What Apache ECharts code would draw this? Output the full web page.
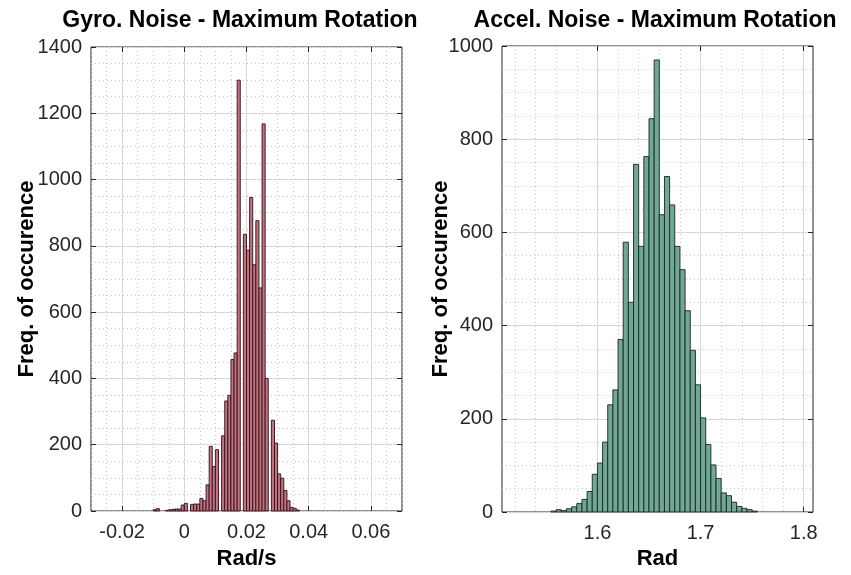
<!DOCTYPE html>
<html><head><meta charset="utf-8">
<script src="https://cdn.jsdelivr.net/npm/echarts@6/dist/echarts.min.js"></script>
<style>html,body{margin:0;padding:0;background:#fff}#c{width:851px;height:575px}</style>
</head><body><div id="c"></div><script>
// ---- Gyro histogram (bin edges, counts) ----
const gyroEdges = [-0.010,-0.009,-0.008,-0.007,-0.006,-0.005,-0.004,-0.003,-0.002,-0.001,
  0.000,0.001,0.002,0.003,0.004,0.005,0.006,0.007,0.008,0.009,0.010,0.011,0.012,0.013,0.014,
  0.015,0.016,0.017,0.018,0.019,0.020,0.021,0.022,0.023,0.024,0.025,0.026,0.027,0.028,0.029,
  0.030,0.031,0.032,0.033,0.034,0.035,0.036,0.037];
const gyroCounts = [4,7,0,0,2,4,5,6,6,18,
  23,0,20,21,21,38,31,79,195,134,185,0,227,332,349,
  457,477,1300,0,835,787,946,743,876,673,1168,400,0,274,205,
  112,99,62,31,11,8,3];
// ---- Accel histogram ----
const accelEdges = [1.555,1.560,1.565,1.570,1.575,1.580,1.585,1.590,1.595,1.600,
  1.605,1.610,1.615,1.620,1.625,1.630,1.635,1.640,1.645,1.650,1.655,1.660,1.665,1.670,
  1.675,1.680,1.685,1.690,1.695,1.700,1.705,1.710,1.715,1.720,1.725,1.730,1.735,1.740,
  1.745,1.750,1.755];
const accelCounts = [2,5,3,7,11,18,27,44,81,105,
  150,230,262,370,579,450,746,570,763,844,970,638,720,659,
  570,520,432,347,273,202,145,101,72,41,35,21,12,8,
  5,2];
// ---- Tick values ----
const gyroXTicks = [-0.02,0,0.02,0.04,0.06];
const gyroYTicks = [0,200,400,600,800,1000,1200,1400];
const accelXTicks = [1.6,1.7,1.8];
const accelXMinor = [1.52,1.54,1.56,1.58,1.60,1.62,1.64,1.66,1.68,1.70,1.72,1.74,1.76,1.78,1.80];
const accelYTicks = [0,200,400,600,800,1000];

const TXT = '#262626';
const FONT = 'Liberation Sans, Arial, sans-serif';
const fmt = v => String(+(+v).toFixed(4));

function toData(edges, counts){
  const out = [];
  for (let i = 0; i < counts.length; i++) {
    if (counts[i] > 0) out.push([edges[i], edges[i+1], counts[i]]);
  }
  return out;
}
function render(fill, stroke){
  return function(params, api){
    const p0 = api.coord([api.value(0), 0]);
    const p1 = api.coord([api.value(1), api.value(2)]);
    return {type:'rect', shape:{x:p0[0], y:p1[1], width:p1[0]-p0[0], height:p0[1]-p1[1]},
      style:{fill:fill, stroke:stroke, lineWidth:0.9}};
  };
}
const NOLINE = {show:false, onZero:false};
function xAxes(g, min, max, ticks, minor, minorInterval, name, gap){
  const base = {gridIndex:g, type:'value', min:min, max:max, axisLine:NOLINE};
  return [
    Object.assign({}, base, {position:'bottom',
      axisTick:{show:true, inside:true, length:5, customValues:ticks, lineStyle:{color:TXT}},
      axisLabel:{customValues:ticks, formatter:fmt, fontSize:20, color:TXT, margin:11, fontFamily:FONT},
      splitLine:{show:true, lineStyle:{color:'#dedede', width:1}},
      name:name, nameLocation:'middle', nameGap:gap,
      nameTextStyle:{fontWeight:'bold', fontSize:22, color:'#000', fontFamily:FONT}}),
    Object.assign({}, base, {position:'bottom', interval:minorInterval,
      axisTick:{show:false, customValues:minor}, axisLabel:{show:false},
      splitLine:{show:true, lineStyle:{color:'#c4c4c4', width:1, type:[1,3]}}}),
    Object.assign({}, base, {position:'top',
      axisTick:{show:true, inside:true, length:5, customValues:ticks, lineStyle:{color:TXT}},
      axisLabel:{show:false}, splitLine:{show:false}})
  ];
}
function yAxes(g, max, ticks, name, gap){
  const base = {gridIndex:g, type:'value', min:0, max:max, axisLine:NOLINE};
  return [
    Object.assign({}, base, {position:'left', interval:200,
      axisTick:{show:true, inside:true, length:5, lineStyle:{color:TXT}},
      axisLabel:{formatter:fmt, fontSize:20, color:TXT, margin:9, fontFamily:FONT},
      splitLine:{show:true, lineStyle:{color:'#dedede', width:1}},
      name:name, nameLocation:'middle', nameGap:gap, nameRotate:90, nameMoveOverlap:false,
      nameTextStyle:{fontWeight:'bold', fontSize:22, color:'#000', fontFamily:FONT}}),
    Object.assign({}, base, {position:'left', interval:50,
      axisTick:{show:false}, axisLabel:{show:false},
      splitLine:{show:true, lineStyle:{color:'#c4c4c4', width:1, type:[1,3]}}}),
    Object.assign({}, base, {position:'right', interval:200,
      axisTick:{show:true, inside:true, length:5, lineStyle:{color:TXT}},
      axisLabel:{show:false}, splitLine:{show:false}})
  ];
}

const chart = echarts.init(document.getElementById('c'), null, {renderer:'canvas'});
chart.setOption({
  animation:false,
  backgroundColor:'#fff',
  textStyle:{fontFamily:FONT},
  grid:[
    {left:91, top:47, width:311, height:467, show:true, borderColor:TXT, borderWidth:1, backgroundColor:'#fff'},
    {left:502, top:46, width:311, height:467, show:true, borderColor:TXT, borderWidth:1, backgroundColor:'#fff'}
  ],
  graphic:[
    {type:'text', x:240, y:21, style:{text:'Gyro. Noise - Maximum Rotation', fill:'#000',
      font:'bold 23px ' + FONT, textAlign:'center', textVerticalAlign:'middle'}},
    {type:'text', x:655, y:21, style:{text:'Accel. Noise - Maximum Rotation', fill:'#000',
      font:'bold 23px ' + FONT, textAlign:'center', textVerticalAlign:'middle'}}
  ],
  xAxis: xAxes(0, -0.03, 0.07, gyroXTicks, null, 0.005, 'Rad/s', 37)
    .concat(xAxes(1, 1.5075, 1.809, accelXTicks, accelXMinor, null, 'Rad', 36)),
  yAxis: yAxes(0, 1400, gyroYTicks, 'Freq. of occurence', 53)
    .concat(yAxes(1, 1000, accelYTicks, 'Freq. of occurence', 50)),
  series:[
    {type:'custom', xAxisIndex:0, yAxisIndex:0, renderItem:render('#c47280','#2a1217'),
      encode:{x:[0,1], y:2}, data:toData(gyroEdges, gyroCounts), z:5},
    {type:'custom', xAxisIndex:3, yAxisIndex:3, renderItem:render('#70a795','#17261f'),
      encode:{x:[0,1], y:2}, data:toData(accelEdges, accelCounts), z:5}
  ]
});
</script></body></html>
